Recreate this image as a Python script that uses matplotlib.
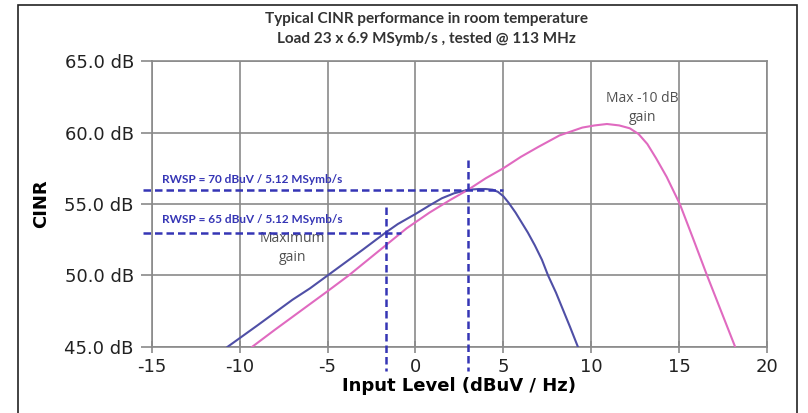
import matplotlib
matplotlib.use("Agg")
import matplotlib.pyplot as plt
from matplotlib.patches import Rectangle

# curve readings (input level dBuV/Hz, CINR dB)
max_gain_x = [-10.7, -9, -8, -7, -6, -5, -4, -3, -1.7, -1, 0, 0.8, 1.5, 2.2, 3.0, 3.6, 4.0, 4.4, 4.7, 5.0, 5.3, 5.7, 6.0, 6.4, 6.8, 7.2, 7.55, 8.0, 8.4, 8.8, 9.25]
max_gain_y = [45.0, 46.5, 47.4, 48.3, 49.1, 50.0, 50.9, 51.8, 53.0, 53.6, 54.3, 54.9, 55.4, 55.75, 56.0, 56.05, 56.05, 56.0, 55.85, 55.55, 55.1, 54.4, 53.8, 53.0, 52.1, 51.1, 50.0, 48.8, 47.6, 46.4, 45.0]
minus10_x = [-9.3, -8, -7, -6, -5, -3.8, -2.7, -1.7, -0.5, 0.8, 2.0, 3.0, 4.0, 5.0, 6.0, 7.0, 8.2, 9.5, 10.2, 10.9, 11.6, 12.2, 12.7, 13.2, 13.7, 14.3, 15.05, 15.8, 16.6, 17.4, 18.2]
minus10_y = [45.0, 46.2, 47.1, 48.0, 48.9, 50.0, 51.1, 52.1, 53.3, 54.4, 55.3, 56.0, 56.8, 57.5, 58.3, 59.0, 59.8, 60.35, 60.5, 60.6, 60.5, 60.3, 59.9, 59.2, 58.2, 56.9, 55.0, 52.6, 50.0, 47.5, 45.0]

rwsp_levels = [56.0, 53.0]
rwsp_inputs = [3.0, -1.7]
rwsp_ends = [5.0, -0.8]
rwsp_tops = [58.1, 54.8]
rwsp_text_offset = [0.45, 0.7]
rwsp_labels = ["RWSP = 70 dBuV / 5.12 MSymb/s", "RWSP = 65 dBuV / 5.12 MSymb/s"]

x_ticks = [-15, -10, -5, 0, 5, 10, 15, 20]
y_ticks = [45, 50, 55, 60, 65]

blue = "#4f4fa6"
pink = "#e06ac0"
dash_blue = "#3535b5"
note_gray = "#505050"

fig = plt.figure(figsize=(8.08, 4.13), dpi=100)
ax = fig.add_axes([0.188, 0.160, 0.761, 0.692])

ax.plot(max_gain_x, max_gain_y, color=blue, lw=1.5, zorder=3)
ax.plot(minus10_x, minus10_y, color=pink, lw=1.5, zorder=3)

for lvl, xin, xend, top, off, lab in zip(rwsp_levels, rwsp_inputs, rwsp_ends, rwsp_tops, rwsp_text_offset, rwsp_labels):
    ax.plot([-15.5, xend], [lvl, lvl], color=dash_blue, lw=1.8, ls=(0, (3, 1.6)), clip_on=False, zorder=4)
    ax.plot([xin, xin], [top, 43.3], color=dash_blue, lw=1.8, ls=(0, (3, 1.6)), clip_on=False, zorder=4)
    ax.text(-14.4, lvl + off, lab, color=dash_blue, fontsize=8.5, fontweight="bold",
            family="Lato", va="baseline", ha="left")

ax.text(-7.0, 51.9, "Maximum\ngain", color=note_gray, fontsize=10, ha="center", va="center",
        family="Open Sans", linespacing=1.35)
ax.text(12.9, 61.7, "Max -10 dB\ngain", color=note_gray, fontsize=10, ha="center", va="center",
        family="Open Sans", linespacing=1.35)

ax.set_xlim(-15, 20)
ax.set_ylim(45, 65)
ax.set_xticks(x_ticks)
ax.set_xticklabels([str(t) for t in x_ticks], fontsize=13, color="#222222")
ax.set_yticks(y_ticks)
ax.set_yticklabels(["%.1f dB" % t for t in y_ticks], fontsize=13, color="#222222")
ax.grid(True, color="#8a8a8a", lw=1.2)
ax.set_axisbelow(True)
for s in ax.spines.values():
    s.set_color("#8a8a8a")
    s.set_linewidth(1.2)
ax.tick_params(axis="y", color="#8a8a8a", length=8, width=1.2, direction="out", pad=5)
ax.tick_params(axis="x", color="#8a8a8a", direction="inout", length=8, width=1.2, pad=4)

ax.set_xlabel("Input Level (dBuV / Hz)", fontsize=13, fontweight="bold", labelpad=1)
ax.set_ylabel("CINR", fontsize=13, fontweight="bold", labelpad=10)

fig.text(0.528, 0.955, "Typical CINR performance in room temperature", ha="center", va="center",
         fontsize=11, fontweight="bold", family="Lato", color="#333333")
fig.text(0.528, 0.905, "Load 23 x 6.9 MSymb/s , tested @ 113 MHz", ha="center", va="center",
         fontsize=11, fontweight="bold", family="Lato", color="#333333")

fig.patches.append(Rectangle((0.022, -0.05), 0.964, 1.038, transform=fig.transFigure,
                             fill=False, edgecolor="#222222", lw=1.2))

fig.savefig("out.png", dpi=100)
